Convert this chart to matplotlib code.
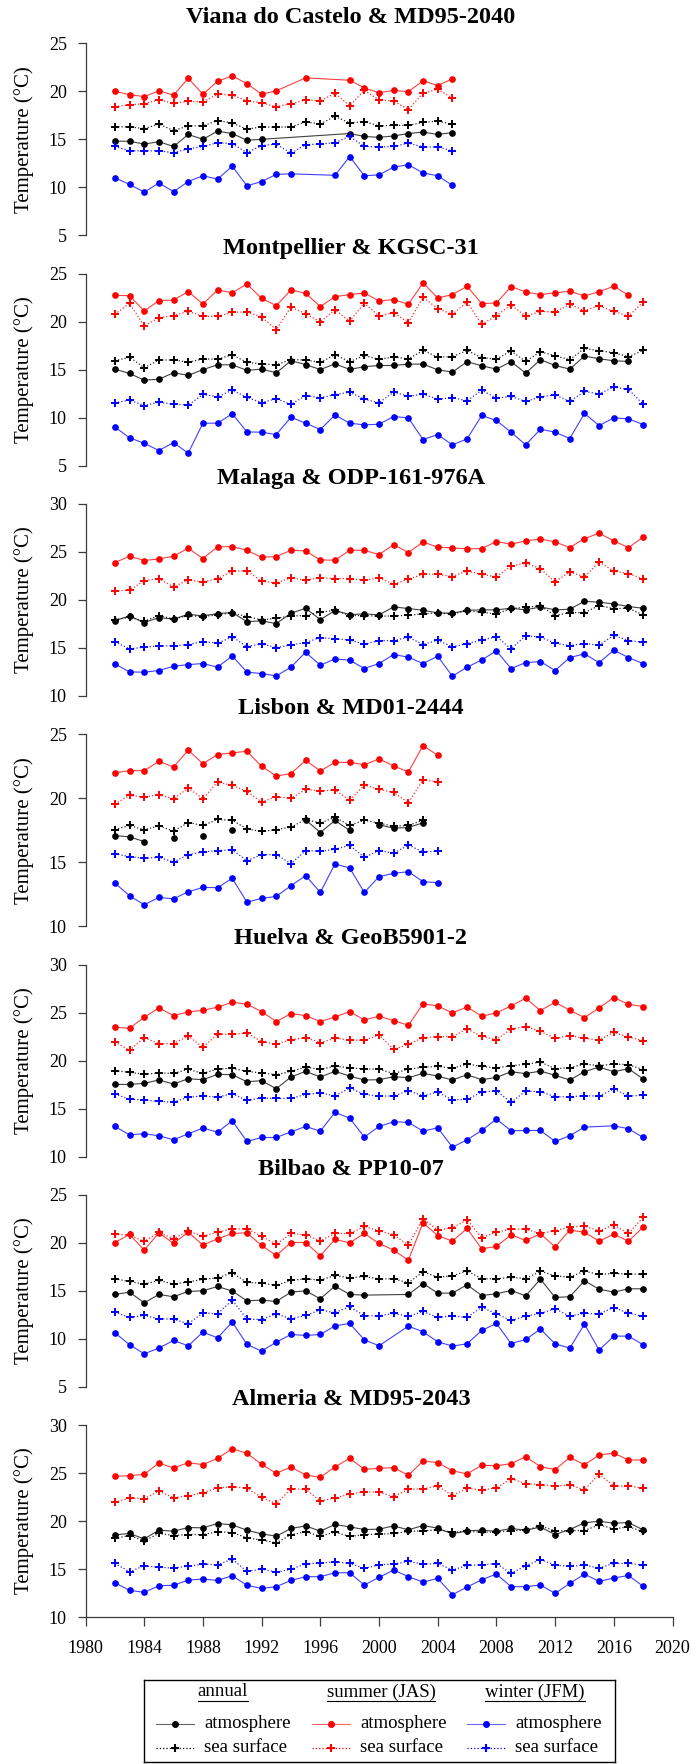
import numpy as np
import matplotlib
matplotlib.use('Agg')
import matplotlib.pyplot as plt

plt.rcParams['font.family'] = ['Liberation Serif', 'DejaVu Serif']

# ---- data ----
years_viana = list(range(1982, 2006))
viana_ann_atm = [14.8, 14.8, 14.5, 14.75, 14.25, 15.5, 15.0, 15.85, 15.6, 14.9, 15.0, None, None, None, None, None,
                 15.6, 15.3, 15.2, 15.35, 15.6, 15.75, 15.5, 15.7]
viana_ann_sea = [16.3, 16.3, 16.1, 16.6, 15.9, 16.4, 16.4, 16.95, 16.7, 16.05, 16.3, 16.25, 16.3, 16.8, 16.6, 17.4,
                 16.7, 16.85, 16.4, 16.45, 16.45, 16.75, 16.9, 16.55]
viana_sum_atm = [20.0, 19.65, 19.45, 20.05, 19.6, 21.35, 19.7, 21.05, 21.6, 20.8, 19.7, 20.05, None, 21.4, None, None,
                 21.15, 20.35, 19.85, 20.1, 19.95, 21.1, 20.6, 21.3]
viana_sum_sea = [18.4, 18.6, 18.7, 19.1, 18.75, 18.95, 18.9, 19.7, 19.6, 19.0, 18.8, 18.4, 18.7, 19.1, 19.0, 19.8,
                 18.5, 20.1, 19.1, 19.0, 18.1, 19.8, 20.2, 19.3]
viana_win_atm = [11.0, 10.3, 9.5, 10.45, 9.55, 10.6, 11.2, 10.85, 12.2, 10.15, 10.6, 11.35, 11.4, None, None, 11.25,
                 13.2, 11.2, 11.3, 12.1, 12.35, 11.5, 11.2, 10.2]
viana_win_sea = [14.25, 13.8, 13.8, 13.8, 13.6, 14.0, 14.25, 14.65, 14.55, 13.6, 14.35, 14.5, 13.55, 14.45, 14.5, 14.65,
                 15.3, 14.25, 14.2, 14.25, 14.6, 14.2, 14.2, 13.8]

years_mont = list(range(1982, 2019))
mont_ann_atm = [15.05, 14.6, 13.9, 14.0, 14.67, 14.4, 15.0, 15.5, 15.5, 14.92, 15.05, 14.67, 15.92, 15.53, 15.0, 15.6,
                15.02, 15.3, 15.43, 15.43, 15.57, 15.57, 14.98, 14.74, 15.82, 15.4, 15.05, 15.82, 14.63, 16.03,
                15.43, 15.05, 16.41, 16.13, 15.92, 15.85, None]
mont_ann_sea = [15.92, 16.3, 15.2, 16.0, 16.0, 15.78, 16.1, 16.1, 16.55, 15.75, 15.6, 15.5, 16.05, 16.0, 15.75, 16.55,
                15.82, 16.48, 16.06, 16.34, 16.1, 17.0, 16.3, 16.34, 17.0, 16.23, 16.1, 16.93, 15.85, 16.86,
                16.44, 16.03, 17.2, 16.97, 16.76, 16.34, 17.0]
mont_sum_atm = [22.74, 22.7, 21.1, 22.18, 22.25, 23.12, 21.83, 23.3, 23.0, 23.92, 22.42, 21.66, 23.3, 22.95, 21.56, 22.6,
                22.81, 22.98, 22.15, 22.29, 21.8, 24.03, 22.46, 22.81, 23.68, 21.87, 21.94, 23.64, 23.09, 22.81,
                23.0, 23.16, 22.67, 23.12, 23.68, 22.74, None]
mont_sum_sea = [20.76, 21.9, 19.54, 20.41, 20.62, 21.07, 20.55, 20.55, 20.97, 21.0, 20.48, 19.16, 21.52, 20.83, 19.96,
                21.24, 20.03, 21.94, 20.58, 20.93, 19.89, 22.53, 21.35, 20.76, 22.04, 19.71, 20.62, 21.73, 20.55,
                21.07, 21.0, 21.8, 21.14, 21.63, 21.07, 20.55, 22.04]
mont_win_atm = [9.03, 7.89, 7.33, 6.57, 7.4, 6.29, 9.42, 9.42, 10.4, 8.51, 8.48, 8.23, 10.04, 9.42, 8.76, 10.27,
                9.42, 9.24, 9.31, 10.11, 9.97, 7.71, 8.23, 7.16, 7.78, 10.22, 9.7, 8.48, 7.16, 8.79, 8.48, 7.82,
                10.43, 9.17, 9.97, 9.87, 9.28]
mont_win_sea = [11.54, 11.82, 11.26, 11.6, 11.4, 11.3, 12.41, 12.17, 12.86, 12.1, 11.57, 11.96, 11.37, 12.3, 12.06,
                12.4, 12.65, 11.92, 11.54, 12.65, 12.23, 12.44, 11.92, 12.06, 11.75, 12.86, 12.03, 12.2, 11.68,
                12.17, 12.37, 11.68, 12.72, 12.48, 13.17, 12.93, 11.4]

years_malaga = list(range(1982, 2019))
mal_ann_atm = [17.85, 18.33, 17.64, 18.16, 17.99, 18.51, 18.33, 18.58, 18.68, 17.74, 17.81, 17.53, 18.61, 19.13, 17.95,
               18.89, 18.47, 18.54, 18.44, 19.27, 19.1, 18.92, 18.65, 18.61, 18.92, 18.96, 18.96, 19.13, 18.96,
               19.27, 18.96, 19.03, 19.86, 19.76, 19.58, 19.31, 19.13]
mal_ann_sea = [17.92, 18.19, 17.78, 18.37, 18.02, 18.37, 18.26, 18.44, 18.65, 18.26, 17.92, 18.09, 18.33, 18.37, 18.72,
               18.92, 18.37, 18.37, 18.3, 18.33, 18.4, 18.54, 18.65, 18.54, 18.85, 18.72, 18.54, 19.1, 19.24,
               19.38, 18.37, 18.68, 18.68, 19.41, 19.1, 19.13, 18.44]
mal_sum_atm = [23.89, 24.55, 24.1, 24.27, 24.55, 25.38, 24.31, 25.52, 25.56, 25.17, 24.44, 24.51, 25.17, 25.1, 24.17,
               24.13, 25.17, 25.17, 24.72, 25.76, 24.93, 26.04, 25.49, 25.42, 25.31, 25.35, 26.08, 25.8, 26.15,
               26.35, 26.04, 25.45, 26.39, 26.94, 26.15, 25.45, 26.53]
mal_sum_sea = [20.94, 21.0, 22.01, 22.22, 21.35, 22.08, 21.88, 22.19, 23.02, 23.02, 21.94, 21.77, 22.29, 22.05, 22.33,
               22.22, 22.22, 22.05, 22.29, 21.63, 22.15, 22.67, 22.67, 22.43, 23.02, 22.67, 22.4, 23.54, 23.82,
               23.26, 21.88, 22.92, 22.4, 23.96, 22.99, 22.74, 22.19]
mal_win_atm = [13.33, 12.5, 12.47, 12.64, 13.09, 13.26, 13.37, 12.99, 14.17, 12.47, 12.33, 12.08, 12.99, 14.55, 13.19,
               13.85, 13.72, 12.85, 13.37, 14.31, 14.03, 13.37, 14.13, 12.05, 12.99, 13.75, 14.69, 12.85, 13.47,
               13.58, 12.64, 13.99, 14.38, 13.47, 14.76, 13.99, 13.37]
mal_win_sea = [15.63, 14.9, 15.07, 15.21, 15.21, 15.35, 15.66, 15.49, 16.15, 15.14, 15.42, 15.03, 15.31, 15.56, 16.08,
               15.94, 15.83, 15.38, 15.76, 15.76, 16.11, 15.35, 15.8, 15.1, 15.45, 15.8, 16.18, 14.9, 16.28,
               16.11, 15.49, 15.24, 15.45, 15.28, 16.32, 15.76, 15.59]

years_lisbon = list(range(1982, 2005))
lis_ann_atm = [17.08, 16.98, 16.61, None, 16.92, None, 17.06, None, 17.53, None, None, None, None, 18.31, 17.32,
               18.26, 17.48, None, 17.92, 17.66, 17.71, 18.08, None]
lis_ann_sea = [17.55, 17.87, 17.53, 17.84, 17.42, 18.1, 17.87, 18.34, 18.28, 17.6, 17.4, 17.55, 17.74, 18.34, 18.05,
               18.52, 17.87, 18.28, 18.05, 17.81, 17.87, 18.28, None]
lis_sum_atm = [21.99, 22.15, 22.15, 22.88, 22.44, 23.75, 22.7, 23.41, 23.54, 23.67, 22.49, 21.73, 21.92, 22.96, 22.13,
               22.8, 22.8, 22.62, 23.07, 22.52, 22.05, 24.11, 23.35]
lis_sum_sea = [19.54, 20.22, 20.09, 20.27, 19.96, 20.79, 19.96, 21.26, 21.0, 20.53, 19.7, 20.12, 19.98, 20.69, 20.56,
               20.64, 19.83, 21.03, 20.69, 20.45, 19.64, 21.45, 21.26]
lis_win_atm = [13.37, 12.38, 11.67, 12.25, 12.14, 12.69, 13.03, 13.01, 13.74, 11.88, 12.17, 12.33, 13.16, 13.95, 12.64,
               14.86, 14.55, 12.64, 13.87, 14.13, 14.26, 13.48, 13.4]
lis_win_sea = [15.65, 15.44, 15.31, 15.38, 15.02, 15.59, 15.8, 15.91, 15.96, 15.12, 15.59, 15.59, 14.89, 15.91, 15.85,
               16.01, 16.32, 15.38, 15.91, 15.7, 16.35, 15.8, 15.85]

years_huelva = list(range(1982, 2019))
hue_ann_atm = [17.51, 17.51, 17.62, 17.97, 17.55, 18.1, 18.0, 18.56, 18.52, 17.79, 17.9, 17.06, 18.28, 18.87, 18.28,
               18.87, 18.38, 17.97, 18.0, 18.31, 18.21, 18.66, 18.38, 17.97, 18.52, 18.0, 18.24, 18.83, 18.63,
               18.9, 18.45, 17.97, 18.83, 19.32, 18.83, 19.15, 18.07]
hue_ann_sea = [18.94, 18.77, 18.56, 18.7, 18.66, 19.08, 18.66, 19.11, 19.18, 18.87, 18.7, 18.52, 18.87, 19.32, 19.08,
               19.39, 19.25, 19.11, 19.11, 18.63, 19.11, 19.29, 19.39, 19.18, 19.63, 19.39, 19.22, 19.46, 19.6,
               19.84, 19.15, 19.25, 19.63, 19.46, 19.63, 19.57, 19.04]
hue_sum_atm = [23.46, 23.36, 24.5, 25.48, 24.68, 25.06, 25.23, 25.55, 26.07, 25.86, 25.1, 24.05, 24.89, 24.68, 24.05,
               24.54, 25.1, 24.23, 24.61, 24.16, 23.67, 25.9, 25.69, 24.96, 25.58, 24.61, 24.96, 25.69, 26.49,
               25.2, 26.07, 25.23, 24.47, 25.48, 26.56, 25.86, 25.62]
hue_sum_sea = [21.93, 21.06, 22.38, 21.76, 21.76, 22.56, 21.37, 22.73, 22.73, 22.87, 21.97, 21.69, 22.17, 22.38, 21.86,
               22.31, 22.14, 22.1, 22.66, 21.17, 21.69, 22.38, 22.49, 22.49, 23.29, 22.52, 22.17, 23.29, 23.53,
               23.04, 22.31, 22.59, 22.31, 22.14, 22.94, 22.42, 22.07]
hue_win_atm = [13.13, 12.26, 12.37, 12.16, 11.74, 12.37, 12.96, 12.54, 13.72, 11.57, 11.98, 11.98, 12.57, 13.13, 12.64,
               14.59, 14.0, 12.02, 13.13, 13.62, 13.55, 12.64, 12.99, 10.97, 11.74, 12.71, 13.9, 12.68, 12.71,
               12.71, 11.57, 12.16, 13.06, None, 13.2, 12.89, 11.98]
hue_win_sea = [16.5, 15.98, 15.88, 15.74, 15.67, 16.16, 16.3, 16.19, 16.54, 15.84, 16.09, 16.05, 16.05, 16.47, 16.61,
               16.33, 17.13, 16.47, 16.3, 16.3, 16.85, 16.33, 16.71, 15.91, 15.95, 16.71, 16.85, 15.63, 16.82,
               16.75, 16.23, 16.23, 16.33, 16.3, 17.03, 16.3, 16.37]

years_bilbao = list(range(1982, 2019))
bil_ann_atm = [14.62, 14.86, 13.75, 14.62, 14.38, 14.93, 15.0, 15.45, 14.97, 13.96, 14.03, 13.89, 14.86, 15.0, 14.17,
               15.49, 14.62, 14.55, None, None, 14.62, 15.76, 14.76, 14.76, 15.63, 14.51, 14.69, 15.03, 14.48,
               16.22, 14.31, 14.38, 16.04, 15.17, 14.86, 15.21, 15.21]
bil_ann_sea = [16.25, 15.97, 15.69, 16.08, 15.69, 15.94, 16.18, 16.35, 16.88, 15.87, 15.8, 15.59, 16.08, 16.25, 16.11,
               16.6, 16.35, 16.49, 16.25, 16.25, 15.83, 16.98, 16.42, 16.56, 17.08, 16.25, 16.25, 16.39, 16.28,
               17.05, 16.56, 16.42, 17.05, 16.7, 16.81, 16.74, 16.74]
bil_sum_atm = [20.03, 20.87, 19.24, 21.04, 19.93, 21.11, 19.76, 20.42, 20.97, 21.04, 19.72, 18.68, 20.03, 20.03, 18.65,
               20.35, 20.0, 20.97, 19.93, 19.24, 18.19, 22.08, 20.76, 20.17, 21.49, 19.38, 19.62, 20.83, 20.24,
               20.94, 19.58, 21.32, 21.11, 20.17, 20.9, 20.17, 21.63]
bil_sum_sea = [20.87, 20.8, 20.14, 21.08, 20.42, 21.22, 20.69, 21.11, 21.46, 21.46, 20.69, 19.83, 20.97, 20.83, 20.21,
               20.97, 20.97, 21.7, 21.25, 20.83, 19.76, 22.53, 21.32, 21.56, 22.4, 20.52, 21.11, 21.42, 21.42,
               20.97, 21.25, 21.67, 21.74, 21.25, 21.84, 20.97, 22.64]
bil_win_atm = [10.63, 9.38, 8.44, 9.03, 9.83, 9.27, 10.69, 10.1, 11.74, 9.41, 8.72, 9.65, 10.45, 10.35, 10.45, 11.35,
               11.6, 9.9, 9.27, None, 11.32, 10.73, 9.69, 9.24, 9.48, 10.87, 11.6, 9.51, 9.93, 11.01, 9.48, 9.03,
               11.53, 8.82, 10.28, 10.28, 9.38]
bil_win_sea = [12.78, 12.22, 12.43, 12.08, 12.05, 11.56, 12.71, 12.6, 14.03, 12.05, 12.01, 12.6, 12.08, 12.43, 13.02,
               12.71, 13.37, 12.4, 12.4, 12.64, 12.33, 12.85, 12.22, 12.4, 12.22, 13.3, 12.6, 11.91, 12.36, 12.64,
               13.13, 12.36, 12.64, 12.6, 13.26, 12.67, 12.33]

years_almeria = list(range(1982, 2019))
alm_ann_atm = [18.57, 18.71, 18.15, 19.05, 18.95, 19.33, 19.3, 19.75, 19.61, 19.05, 18.67, 18.43, 19.23, 19.5, 18.95,
               19.65, 19.4, 19.12, 19.16, 19.5, 19.09, 19.54, 19.26, 18.67, 18.99, 19.05, 18.95, 19.23, 19.05,
               19.37, 18.6, 19.12, 19.82, 19.99, 19.78, 19.85, 19.09]
alm_ann_sea = [18.19, 18.5, 17.95, 18.71, 18.5, 18.6, 18.6, 18.88, 18.81, 18.26, 18.02, 17.74, 18.57, 18.88, 18.43,
               18.85, 18.4, 18.6, 18.64, 18.71, 18.92, 18.99, 19.09, 18.85, 18.92, 18.85, 18.85, 18.99, 19.05,
               19.5, 18.99, 19.02, 19.02, 19.61, 19.19, 19.4, 18.92]
alm_sum_atm = [24.67, 24.73, 24.87, 26.05, 25.53, 26.09, 25.88, 26.54, 27.54, 27.06, 25.91, 24.98, 25.64, 24.8, 24.56,
               25.64, 26.54, 25.39, 25.5, 25.57, 24.77, 26.26, 26.09, 25.25, 24.91, 25.81, 25.77, 25.98, 26.71,
               25.67, 25.36, 26.64, 25.88, 26.88, 27.09, 26.36, 26.36]
alm_sum_sea = [21.96, 22.41, 22.34, 23.11, 22.45, 22.62, 22.97, 23.45, 23.59, 23.42, 22.48, 21.79, 23.38, 23.31, 22.1,
               22.41, 22.8, 23.07, 23.0, 22.55, 23.31, 23.35, 23.66, 22.66, 23.42, 23.25, 23.45, 24.42, 23.9,
               23.8, 23.66, 23.76, 23.25, 24.91, 23.66, 23.66, 23.42]
alm_win_atm = [13.58, 12.79, 12.58, 13.27, 13.31, 13.86, 13.96, 13.82, 14.31, 13.31, 12.99, 13.17, 13.82, 14.21, 14.21,
               14.62, 14.62, 13.34, 14.14, 14.9, 14.21, 13.65, 14.03, 12.34, 13.13, 13.89, 14.48, 13.17, 13.17,
               13.34, 12.47, 13.51, 14.48, 13.72, 14.07, 14.34, 13.2]
alm_win_sea = [15.59, 14.72, 15.35, 15.18, 15.11, 15.31, 15.52, 15.45, 16.04, 14.76, 15.0, 14.69, 14.97, 15.56, 15.62,
               15.76, 15.59, 15.07, 15.45, 15.52, 15.8, 15.52, 15.59, 14.9, 15.38, 15.45, 15.56, 14.55, 15.35,
               16.0, 15.42, 15.28, 15.42, 15.11, 15.59, 15.59, 15.42]

# title, years, y range, join across gaps?, series (annual, summer, winter x atmosphere, sea surface)
panels = [
    ("Viana do Castelo & MD95-2040", years_viana, (5, 25), True,
     [viana_ann_atm, viana_ann_sea, viana_sum_atm, viana_sum_sea, viana_win_atm, viana_win_sea]),
    ("Montpellier & KGSC-31", years_mont, (5, 25), True,
     [mont_ann_atm, mont_ann_sea, mont_sum_atm, mont_sum_sea, mont_win_atm, mont_win_sea]),
    ("Malaga & ODP-161-976A", years_malaga, (10, 30), True,
     [mal_ann_atm, mal_ann_sea, mal_sum_atm, mal_sum_sea, mal_win_atm, mal_win_sea]),
    ("Lisbon & MD01-2444", years_lisbon, (10, 25), False,
     [lis_ann_atm, lis_ann_sea, lis_sum_atm, lis_sum_sea, lis_win_atm, lis_win_sea]),
    ("Huelva & GeoB5901-2", years_huelva, (10, 30), True,
     [hue_ann_atm, hue_ann_sea, hue_sum_atm, hue_sum_sea, hue_win_atm, hue_win_sea]),
    ("Bilbao & PP10-07", years_bilbao, (5, 25), True,
     [bil_ann_atm, bil_ann_sea, bil_sum_atm, bil_sum_sea, bil_win_atm, bil_win_sea]),
    ("Almeria & MD95-2043", years_almeria, (10, 30), True,
     [alm_ann_atm, alm_ann_sea, alm_sum_atm, alm_sum_sea, alm_win_atm, alm_win_sea]),
]

colors = ['black', '#ff0000', '#0000ff']
seasons = ['annual', 'summer (JAS)', 'winter (JFM)']
kinds = ['atmosphere', 'sea surface']
axis_col = '#3c3c3c'

W, H = 692, 1764
fig = plt.figure(figsize=(W / 100, H / 100), dpi=100)


def box(left, top, width, height):
    return [left / W, 1 - (top + height) / H, width / W, height / H]


def draw_series(ax, x, y, color, atm, join):
    if join:
        ok = ~np.isnan(y)
        xl, yl = x[ok], y[ok]
    else:
        xl, yl = x, y
    if atm:
        ax.plot(xl, yl, '-', color=color, lw=0.8, alpha=0.75)
        ax.plot(x, y, ls='none', marker='o', ms=3.8, color=color, clip_on=False)
    else:
        ax.plot(xl, yl, ':', color=color, lw=0.9, alpha=0.85)
        ax.plot(x, y, ls='none', marker='+', ms=5.5, mew=1.4, color=color, clip_on=False)


panel_h = 192
for i, (title, years, (lo, hi), join, series) in enumerate(panels):
    top = 43.3 + 230.3 * i
    ax = fig.add_axes(box(85.5, top, 587, panel_h))
    x = np.array(years, dtype=float)
    for k, vals in enumerate(series):
        draw_series(ax, x, np.array(vals, dtype=float), colors[k // 2], k % 2 == 0, join)

    ax.set_xlim(1980, 2020)
    ax.set_ylim(lo, hi)
    ax.set_yticks(np.arange(lo, hi + 1, 5))
    for s in ['top', 'right']:
        ax.spines[s].set_visible(False)
    ax.spines['left'].set_color(axis_col)
    ax.spines['left'].set_linewidth(0.9)
    ax.tick_params(axis='y', length=5.5, width=0.9, pad=8, labelsize=13, color=axis_col)
    if i == len(panels) - 1:
        ax.spines['bottom'].set_color(axis_col)
        ax.spines['bottom'].set_linewidth(0.9)
        ax.set_xticks(range(1980, 2021, 4))
        ax.tick_params(axis='x', length=6.5, width=0.9, pad=10, labelsize=13, color=axis_col)
    else:
        ax.spines['bottom'].set_visible(False)
        ax.set_xticks([])

    fig.text(351 / W, 1 - (top - 25.5) / H, title, ha='center', va='center',
             fontsize=17.5, fontweight='bold')
    fig.text(24 / W, 1 - (top + 96) / H, 'Temperature (°C)', rotation=90,
             ha='center', va='center', fontsize=15)

# legend box drawn in pixel units
lax = fig.add_axes(box(144, 1680, 471, 82))
lax.set_xlim(144, 615)
lax.set_ylim(1762, 1680)
lax.set_xticks([])
lax.set_yticks([])
for s in lax.spines.values():
    s.set_linewidth(1.0)
    s.set_color('black')

col_x = [156, 312, 467]
head_x = [223, 381, 535]
row_y = [1724, 1748]
headers = []
for c in range(3):
    t = lax.text(head_x[c], 1692, seasons[c], ha='center', va='center', fontsize=13.5)
    headers.append(t)
    for r in range(2):
        y = row_y[r]
        if r == 0:
            lax.plot([col_x[c], col_x[c] + 38], [y, y], '-', color=colors[c], lw=0.8, alpha=0.6)
            lax.plot([col_x[c] + 19], [y], 'o', ms=4, color=colors[c])
        else:
            lax.plot([col_x[c], col_x[c] + 38], [y, y], ':', color=colors[c], lw=0.9)
            lax.plot([col_x[c] + 19], [y], '+', ms=6, mew=1.5, color=colors[c])
        lax.text(col_x[c] + 48, y, kinds[r], ha='left', va='center', fontsize=13.5)

# underline the season headers
fig.canvas.draw()
inv = lax.transData.inverted()
for t in headers:
    bb = t.get_window_extent()
    x0, _ = inv.transform((bb.x0, bb.y0))
    x1, _ = inv.transform((bb.x1, bb.y0))
    lax.plot([x0, x1], [1701, 1701], '-', color='black', lw=0.8)

fig.savefig('out.png', dpi=100)
